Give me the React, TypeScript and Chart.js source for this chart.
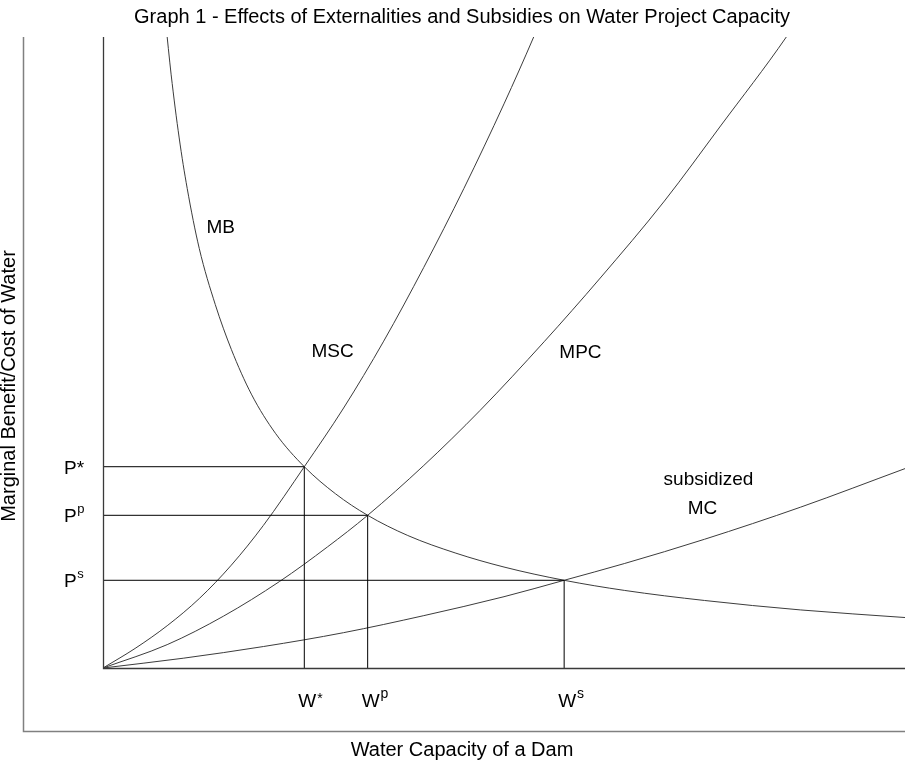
import React, { useEffect, useRef } from "react";
import { Chart, registerables } from "chart.js";

Chart.register(...registerables);

const TITLE = "Graph 1 - Effects of Externalities and Subsidies on Water Project Capacity";
const X_TITLE = "Water Capacity of a Dam";
const Y_TITLE = "Marginal Benefit/Cost of Water";

// Marginal benefit curve (axis units 0..100)
const mbX = [7.8, 8.5, 9.5, 10.5, 12, 14, 16, 18.5, 21.5, 25.1, 29, 33, 38, 44, 50, 57.5, 65, 75, 87, 100];
const mbY = [102.5, 94, 84, 76, 66.5, 57.6, 50.5, 43.4, 37.2, 31.9, 27.6, 24.2, 21.0, 18.2, 16.0, 13.9, 12.3, 10.7, 9.2, 8.0];

// Marginal social cost
const mscX = [0, 4, 8, 12, 16, 20, 25.1, 30, 35, 40, 45, 50, 53.7, 55];
const mscY = [0, 3.1, 6.7, 11.0, 16.3, 22.6, 31.9, 41.2, 51.8, 63.5, 76.0, 89.4, 100, 104];

// Marginal private cost
const mpcX = [0, 8, 15, 22, 28, 33, 40, 47, 55, 62, 70, 77, 85.2, 88];
const mpcY = [0, 3.7, 8.2, 13.7, 19.2, 24.2, 32.1, 40.8, 51.7, 61.8, 74.0, 85.9, 100, 105.5];

// Subsidized marginal cost
const smcX = [0, 10, 20, 30, 40, 50, 57.5, 65, 75, 87, 100];
const smcY = [0, 1.55, 3.4, 5.6, 8.3, 11.3, 13.9, 16.55, 20.4, 25.5, 31.6];

// Equilibria: W*, Wp, Ws and P*, Pp, Ps
const eqW = [25.1, 33.0, 57.5];
const eqP = [31.9, 24.2, 13.9];
const eqSup = ["*", "p", "s"];

const curveLabels = ["MB", "MSC", "MPC", "subsidized", "MC"];

export default function App() {
  const ref = useRef<HTMLCanvasElement>(null);

  useEffect(() => {
    document.body.style.margin = "0";
    const canvas = ref.current!;
    const FONT = "'Liberation Sans', Arial, Helvetica, sans-serif";

    const toPts = (xs: number[], ys: number[]) => xs.map((x, i) => ({ x, y: ys[i] }));
    const curve = (data: { x: number; y: number }[]) => ({
      data,
      showLine: true,
      borderColor: "#3c3c3c",
      borderWidth: 1,
      pointRadius: 0,
      cubicInterpolationMode: "monotone" as const,
      fill: false,
    });
    const guide = (data: { x: number; y: number }[]) => ({
      data,
      showLine: true,
      borderColor: "#000000",
      borderWidth: 1,
      pointRadius: 0,
      fill: false,
    });

    const datasets: any[] = [];
    eqW.forEach((w, i) => {
      datasets.push(guide([{ x: 0, y: eqP[i] }, { x: w, y: eqP[i] }]));
      datasets.push(guide([{ x: w, y: 0 }, { x: w, y: eqP[i] }]));
    });
    datasets.push(curve(toPts(mbX, mbY)));
    datasets.push(curve(toPts(mscX, mscY)));
    datasets.push(curve(toPts(mpcX, mpcY)));
    datasets.push(curve(toPts(smcX, smcY)));

    const decor = {
      id: "decor",
      beforeDraw(chart: any) {
        const ctx = chart.ctx;
        ctx.save();
        ctx.fillStyle = "#ffffff";
        ctx.fillRect(0, 0, chart.width, chart.height);
        ctx.restore();
      },
      afterDraw(chart: any) {
        const ctx = chart.ctx as CanvasRenderingContext2D;
        const ca = chart.chartArea;
        const xs = chart.scales.x;
        const ys = chart.scales.y;
        ctx.save();

        // outer frame
        ctx.strokeStyle = "#808080";
        ctx.lineWidth = 1.5;
        ctx.beginPath();
        ctx.moveTo(23.5, ca.top);
        ctx.lineTo(23.5, 731.5);
        ctx.lineTo(chart.width, 731.5);
        ctx.stroke();

        // axes
        ctx.strokeStyle = "#3a3a3a";
        ctx.lineWidth = 1.3;
        ctx.beginPath();
        ctx.moveTo(ca.left + 0.5, ca.top);
        ctx.lineTo(ca.left + 0.5, ca.bottom + 0.5);
        ctx.lineTo(ca.right, ca.bottom + 0.5);
        ctx.stroke();

        ctx.fillStyle = "#000000";
        ctx.textBaseline = "alphabetic";

        // title
        ctx.font = `20px ${FONT}`;
        ctx.textAlign = "center";
        ctx.fillText(TITLE, 462, 23);

        // x title
        ctx.fillText(X_TITLE, 462, 756);

        // y title
        ctx.save();
        ctx.translate(15, 386);
        ctx.rotate(-Math.PI / 2);
        ctx.fillText(Y_TITLE, 0, 0);
        ctx.restore();

        // W labels
        ctx.textAlign = "left";
        eqW.forEach((w, i) => {
          const px = xs.getPixelForValue(w) - 6;
          ctx.font = `19px ${FONT}`;
          ctx.fillText("W", px, 706.5);
          const ww = ctx.measureText("W").width;
          ctx.font = `14px ${FONT}`;
          ctx.fillText(eqSup[i], px + ww + 1, 706.5 - (i === 0 ? 4 : 9));
        });

        // P labels
        eqP.forEach((p, i) => {
          const py = ys.getPixelForValue(p);
          const base = py + 7;
          ctx.font = `19px ${FONT}`;
          if (i === 0) {
            ctx.fillText("P*", 64, base);
          } else {
            ctx.fillText("P", 64, base);
            const pw = ctx.measureText("P").width;
            ctx.font = `13px ${FONT}`;
            ctx.fillText(eqSup[i], 64 + pw + 0.5, base - 9);
          }
        });

        // curve labels
        const anchors = [
          [12.9, 69.8],
          [26.0, 50.1],
          [56.9, 50.0],
          [69.9, 29.9],
          [72.9, 25.2],
        ];
        ctx.font = `19px ${FONT}`;
        ctx.textBaseline = "middle";
        curveLabels.forEach((t, i) => {
          ctx.fillText(t, xs.getPixelForValue(anchors[i][0]), ys.getPixelForValue(anchors[i][1]));
        });

        ctx.restore();
      },
    };

    const chart = new Chart(canvas, {
      type: "scatter",
      data: { datasets },
      options: {
        responsive: false,
        animation: false,
        events: [],
        layout: { padding: { left: 103, top: 37, right: 0, bottom: 93 } },
        scales: {
          x: { type: "linear", min: 0, max: 100, display: false },
          y: { type: "linear", min: 0, max: 100, display: false },
        },
        plugins: {
          legend: { display: false },
          tooltip: { enabled: false },
          title: { display: false },
        },
      },
      plugins: [decor],
    });

    return () => chart.destroy();
  }, []);

  return <canvas ref={ref} width={905} height={761} style={{ display: "block" }} />;
}
